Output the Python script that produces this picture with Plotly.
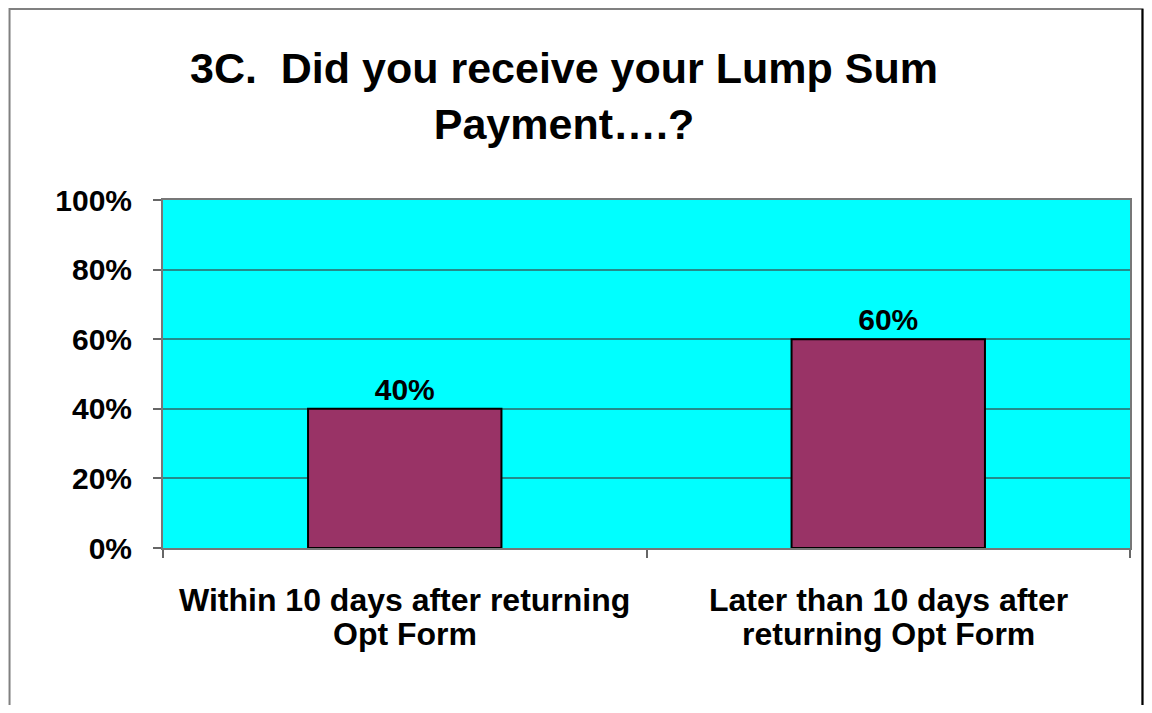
"""
3C. Did you receive your Lump Sum Payment....?
Gráfico de barras recriado com Plotly
"""

import plotly.graph_objects as go

# Dados
categorias = ["Within 10 days after returning Opt Form",
              "Later than 10 days after returning Opt Form"]
linha1 = ["Within 10 days after returning", "Later than 10 days after"]
linha2 = ["Opt Form", "returning Opt Form"]
valores = [0.40, 0.60]
rotulos = ["40%", "60%"]
ticks_y = [0, 0.2, 0.4, 0.6, 0.8, 1.0]
ticks_y_texto = ["0%", "20%", "40%", "60%", "80%", "100%"]

FONTE = "Liberation Sans, Arial, sans-serif"

fig = go.Figure()
fig.add_trace(go.Bar(
    x=categorias,
    y=valores,
    text=rotulos,
    texttemplate="<b>%{text}</b>",
    textposition="outside",
    textfont=dict(family=FONTE, size=30, color="black"),
    marker=dict(color="#993366", line=dict(color="black", width=2)),
    cliponaxis=False,
))

# rótulos do eixo x em duas linhas (espaçamento mais apertado que o padrão)
for cat, l1, l2 in zip(categorias, linha1, linha2):
    fig.add_annotation(x=cat, y=0, xref="x", yref="paper", text="<b>" + l1 + "</b>",
                       showarrow=False, yanchor="middle", yshift=-52,
                       font=dict(family=FONTE, size=32, color="black"))
    fig.add_annotation(x=cat, y=0, xref="x", yref="paper", text="<b>" + l2 + "</b>",
                       showarrow=False, yanchor="middle", yshift=-86,
                       font=dict(family=FONTE, size=32, color="black"))

# moldura externa
fig.add_shape(type="rect", xref="paper", yref="paper",
              x0=-0.1587, x1=1.0129, y0=-0.6, y1=1.5489,
              line=dict(color="#808080", width=2), layer="below")
fig.add_shape(type="line", xref="paper", yref="paper",
              x0=1.0129, x1=1.0129, y0=-0.6, y1=1.5489,
              line=dict(color="black", width=2))

fig.update_layout(
    width=1136,
    height=697,
    margin=dict(l=155, r=14, t=192, b=157),
    paper_bgcolor="white",
    plot_bgcolor="#00FFFF",
    showlegend=False,
    bargap=0.6,
    title=dict(
        text="<b>3C.  Did you receive your Lump Sum<br>Payment….?</b>",
        x=0.4894, xanchor="center",
        y=1 - 75 / 697, yanchor="top", yref="container",
        font=dict(family=FONTE, size=43, color="black"),
    ),
    xaxis=dict(
        showticklabels=False,
        ticks="outside",
        tickson="boundaries",
        ticklen=8,
        tickwidth=2,
        tickcolor="#666666",
        showline=True,
        linecolor="#777777",
        linewidth=2,
        mirror=True,
        showgrid=False,
    ),
    yaxis=dict(
        range=[0, 1],
        tickvals=ticks_y,
        ticktext=["<b>" + t + "</b>" for t in ticks_y_texto],
        tickfont=dict(family=FONTE, size=30, color="black"),
        ticklabelstandoff=15,
        ticks="outside",
        ticklen=8,
        tickwidth=2,
        tickcolor="#666666",
        showline=True,
        linecolor="#777777",
        linewidth=2,
        mirror=True,
        showgrid=True,
        gridcolor="#238c8c",
        gridwidth=1.5,
        zeroline=False,
    ),
)

fig.write_html("out.html")
